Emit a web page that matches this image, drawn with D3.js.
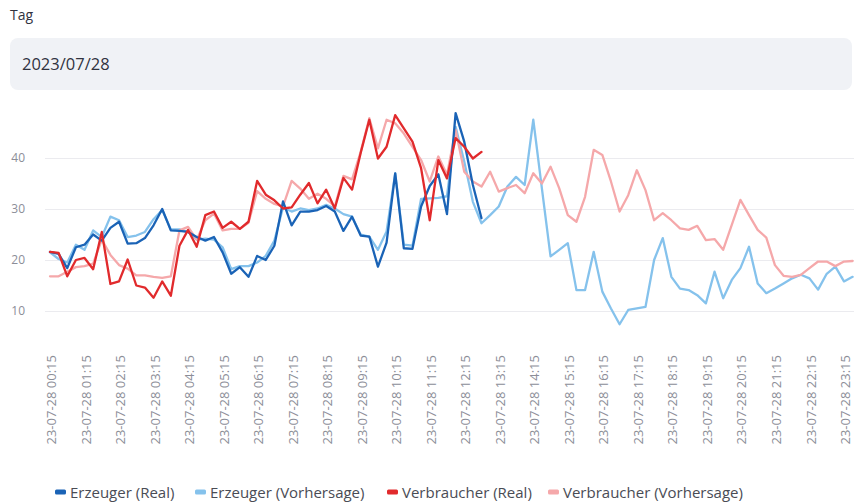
<!DOCTYPE html>
<html><head><meta charset="utf-8">
<script src="https://cdn.jsdelivr.net/npm/d3@7"></script>
<style>
html,body{margin:0;padding:0;background:#fff;overflow:hidden;}
svg{display:block;font-family:"Open Sans","Noto Sans",sans-serif;}
</style></head><body>
<svg id="c" width="854" height="504"></svg>
<script>
const dayLabel = "23-07-28";
const times = ["00:15","00:30","00:45","01:00","01:15","01:30","01:45","02:00","02:15","02:30","02:45","03:00",
"03:15","03:30","03:45","04:00","04:15","04:30","04:45","05:00","05:15","05:30","05:45","06:00",
"06:15","06:30","06:45","07:00","07:15","07:30","07:45","08:00","08:15","08:30","08:45","09:00",
"09:15","09:30","09:45","10:00","10:15","10:30","10:45","11:00","11:15","11:30","11:45","12:00",
"12:15","12:30","12:45","13:00","13:15","13:30","13:45","14:00","14:15","14:30","14:45","15:00",
"15:15","15:30","15:45","16:00","16:15","16:30","16:45","17:00","17:15","17:30","17:45","18:00",
"18:15","18:30","18:45","19:00","19:15","19:30","19:45","20:00","20:15","20:30","20:45","21:00",
"21:15","21:30","21:45","22:00","22:15","22:30","22:45","23:00","23:15","23:30"];
const tickTimes = ["00:15","01:15","02:15","03:15","04:15","05:15","06:15","07:15","08:15","09:15","10:15","11:15",
"12:15","13:15","14:15","15:15","16:15","17:15","18:15","19:15","20:15","21:15","22:15","23:15"];
const yTicks = [10,20,30,40];

const erzeugerReal = [21.6,21.2,18.4,22.5,23.0,25.0,23.8,26.3,27.5,23.2,23.3,24.3,26.8,30.0,25.8,25.7,25.5,24.5,23.8,
24.5,21.5,17.3,18.6,16.7,20.8,20.0,22.8,31.5,26.8,29.5,29.5,29.8,30.6,29.5,25.7,28.5,24.8,
24.6,18.7,23.4,37.0,22.3,22.2,30.5,34.5,36.8,29.0,48.8,43.2,34.7,28.2];
const erzeugerForecast = [21.5,20.2,19.5,23.0,22.0,25.8,24.5,28.5,27.8,24.5,24.8,25.5,28.0,29.8,26.0,26.0,25.5,24.0,24.2,
24.0,22.5,18.2,18.8,18.8,19.5,20.8,23.8,30.3,29.5,30.1,29.8,30.1,30.8,30.1,29.0,28.5,25.0,
24.6,22.0,25.6,37.0,23.0,22.8,32.0,32.1,32.2,32.5,46.1,39.3,31.4,27.2,28.8,30.5,34.4,36.3,34.7,
47.5,34.0,20.7,22.0,23.3,14.1,14.1,21.6,13.8,10.5,7.4,10.2,10.5,10.8,20.0,24.3,16.7,14.4,14.1,
13.1,11.5,17.7,12.5,16.1,18.4,22.6,15.4,13.5,14.4,15.4,16.4,17.1,16.4,14.2,17.3,18.7,15.8,16.7];
const verbraucherReal = [21.6,21.4,16.8,20.0,20.4,18.2,25.5,15.3,15.8,20.1,15.0,14.6,12.6,15.8,13.0,22.8,25.9,22.6,28.8,
29.5,26.3,27.5,26.1,27.5,35.5,32.8,31.7,30.1,30.3,32.8,35.1,31.1,33.8,30.1,36.1,33.8,41.0,
47.5,39.9,42.2,48.4,45.8,43.2,38.0,27.8,39.6,36.0,43.9,42.2,39.9,41.2];
const verbraucherForecast = [16.8,16.8,17.7,18.6,18.8,19.3,24.0,21.0,19.0,18.3,17.0,17.0,16.7,16.5,16.8,25.8,26.5,24.0,27.8,
29.1,25.8,26.1,26.1,27.3,33.5,32.0,31.0,30.5,35.5,34.0,32.0,33.0,32.0,30.5,36.5,35.8,41.2,
47.8,41.9,47.5,46.8,44.8,42.2,39.6,35.4,40.3,36.7,45.5,37.3,35.4,34.4,37.3,33.4,34.1,34.7,33.1,
37.0,35.0,38.3,34.1,28.8,27.5,32.4,41.6,40.6,35.4,29.5,32.7,37.6,33.7,27.8,29.2,27.8,26.2,25.9,
26.7,23.9,24.1,22.0,26.9,31.8,28.8,25.9,24.4,19.0,16.9,16.7,17.1,18.4,19.7,19.7,18.8,19.7,19.8];

const seriesNames = ["Erzeuger (Real)","Erzeuger (Vorhersage)","Verbraucher (Real)","Verbraucher (Vorhersage)"];
const seriesColors = ["#1a63b6","#85c2ec","#e12a2c","#f5a8aa"];

const svg = d3.select("#c");

// header widget
svg.append("text").attr("x",10).attr("y",20).attr("font-size",14).attr("font-weight",500).attr("fill","#31333F").text("Tag");
svg.append("rect").attr("x",10).attr("y",38).attr("width",842).attr("height",52).attr("rx",8).attr("fill","#F0F2F6");
svg.append("text").attr("x",22).attr("y",70).attr("font-size",16.5).attr("fill","#31333F").text("2023/07/28");

const x = d3.scalePoint().domain(times).range([50, 852.6]);
const y = d3.scaleLinear().domain([0,50]).range([362,107]);

// grid + y axis
const gy = svg.append("g").attr("transform","translate(45,0)")
  .call(d3.axisLeft(y).tickValues(yTicks).tickSize(-815).tickPadding(20).tickFormat(d3.format("d")));
gy.select(".domain").remove();
gy.selectAll(".tick line").attr("stroke","#ebebef").attr("stroke-width",1);
gy.selectAll(".tick text").attr("fill","#8c8e98").attr("font-size",12).attr("font-family","Open Sans, sans-serif");

// x axis
const gx = svg.append("g").attr("transform","translate(0,352)")
  .call(d3.axisBottom(x).tickValues(tickTimes).tickSize(0).tickFormat(t => dayLabel + " " + t));
gx.select(".domain").remove();
gx.selectAll(".tick text")
  .attr("transform","rotate(-90)")
  .attr("text-anchor","end")
  .attr("x",-3).attr("y",1).attr("dy","0.35em")
  .attr("fill","#8c8e98").attr("font-size",13).attr("font-family","Open Sans, sans-serif");

const line = d3.line().x((d,i)=>x(times[i])).y(d=>y(d));
const drawOrder = [[erzeugerForecast,1],[verbraucherForecast,3],[erzeugerReal,0],[verbraucherReal,2]];
drawOrder.forEach(([vals,ci])=>{
  svg.append("path").datum(vals).attr("d",line).attr("fill","none")
    .attr("stroke",seriesColors[ci]).attr("stroke-width",2.3)
    .attr("stroke-linejoin","round").attr("stroke-linecap","round");
});

// legend
const legX = [55,195,387,548];
const lg = svg.append("g");
seriesNames.forEach((n,i)=>{
  lg.append("rect").attr("x",legX[i]).attr("y",489.5).attr("width",11).attr("height",5).attr("rx",1.5).attr("fill",seriesColors[i]);
  lg.append("text").attr("x",legX[i]+15).attr("y",497.5).attr("font-size",15).attr("fill","#4a4c55").text(n);
});
</script>
</body></html>
